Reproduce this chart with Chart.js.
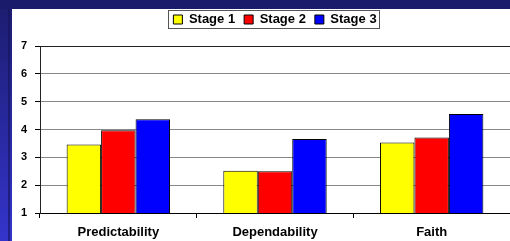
<!DOCTYPE html>
<html>
<head>
<meta charset="utf-8">
<script src="https://cdn.jsdelivr.net/npm/chart.js@4.4.0/dist/chart.umd.min.js"></script>
<style>
  html, body { margin: 0; padding: 0; background: #1b1b6b; }
  #wrap { width: 510px; height: 241px; position: relative; }
</style>
</head>
<body>
<div id="wrap"><canvas id="myChart" width="510" height="241"></canvas></div>
<script>
// chart data
const categories = ["Predictability", "Dependability", "Faith"];
const stageNames = ["Stage 1", "Stage 2", "Stage 3"];
const stage1 = [3.46, 2.52, 3.53];
const stage2 = [3.97, 2.5, 3.71];
const stage3 = [4.37, 3.66, 4.56];
const yTicks = [1, 2, 3, 4, 5, 6, 7];
const barColors = ["#ffff00", "#ff0000", "#0000ff"];

const FONT = "'Liberation Sans', Arial, sans-serif";

//* slide background: navy frame, blue strip on the left, white panel
const slideBg = {
  id: "slideBg",
  beforeDraw(chart) {
    const ctx = chart.ctx;
    const w = chart.width, h = chart.height;
    ctx.save();
    ctx.fillStyle = "#1b1b6b";
    ctx.fillRect(0, 0, w, h);
    let g = ctx.createLinearGradient(0, 0, 0, h);
    g.addColorStop(0, "#1c1c6e");
    g.addColorStop(1, "#3434cc");
    ctx.fillStyle = g;
    ctx.fillRect(0, 9, 12, h);
    ctx.fillStyle = "rgba(20,20,90,0.6)";
    ctx.fillRect(8, 9, 2, h);
    ctx.fillStyle = "#ffffff";
    ctx.fillRect(12, 9, w - 12, h - 9);
    ctx.restore();
  },
};

//? move legend over the plot area and draw a box round it
const legendBox = {
  id: "legendBox",
  afterLayout(chart) {
    const lg = chart.legend;
    const hgt = lg.height;
    lg.left = chart.chartArea.left;
    lg.right = chart.chartArea.right;
    lg.top = 4;
    lg.bottom = lg.top + hgt;
  },
  afterDraw(chart) {
    const lg = chart.legend;
    const boxes = lg.legendHitBoxes;
    if (!boxes || !boxes.length) return;
    let l = Infinity, r = -Infinity, t = Infinity, b = -Infinity;
    boxes.forEach((hb) => {
      l = Math.min(l, hb.left);
      r = Math.max(r, hb.left + hb.width);
      t = Math.min(t, hb.top);
      b = Math.max(b, hb.top + hb.height);
    });
    const ctx = chart.ctx;
    ctx.save();
    ctx.strokeStyle = "#555";
    ctx.lineWidth = 1;
    ctx.strokeRect(Math.round(l - 5) + 0.5, Math.round(t - 3) + 0.5, Math.round(r - l + 8), Math.round(b - t + 5));
    ctx.restore();
  },
};

const data = {
  labels: categories,
  datasets: [stage1, stage2, stage3].map((vals, i) => ({
    label: stageNames[i],
    data: vals,
    backgroundColor: barColors[i],
    borderColor: "#000",
    borderWidth: 1,
    borderSkipped: "bottom",
  })),
};

const config = {
  type: "bar",
  data: data,
  options: {
    responsive: false,
    animation: false,
    events: [],
    categoryPercentage: 0.66,
    barPercentage: 1,
    layout: { padding: { top: 14, left: 0, right: 0, bottom: 0 } },
    plugins: {
      tooltip: { enabled: false },
      legend: {
        position: "top",
        labels: {
          boxWidth: 9,
          boxHeight: 9,
          padding: 9,
          color: "#000",
          font: { family: FONT, size: 13, weight: "bold" },
        },
      },
    },
    scales: {
      x: {
        grid: {
          drawOnChartArea: false,
          tickLength: 5,
          tickColor: "#000",
          offset: true,
        },
        border: { color: "#000", width: 1 },
        ticks: {
          color: "#000",
          padding: 7,
          font: { family: FONT, size: 13, weight: "bold" },
        },
        afterFit: (scale) => {
          scale.height = 28;
        },
      },
      y: {
        min: yTicks[0],
        max: yTicks[yTicks.length - 1],
        grid: {
          color: (c) => (c.tick && c.tick.value === 7 ? "#222" : "#888"),
          tickColor: "#000",
          tickLength: 5,
        },
        border: { color: "#222", width: 1 },
        ticks: {
          stepSize: 1,
          color: "#000",
          padding: 8,
          font: { family: FONT, size: 11, weight: "bold" },
        },
        afterFit: (scale) => {
          scale.width = 40;
        },
      },
    },
  },
  plugins: [slideBg, legendBox],
};

const ctx = document.querySelector("#myChart").getContext("2d");
const myChart = new Chart(ctx, config);
</script>
</body>
</html>
